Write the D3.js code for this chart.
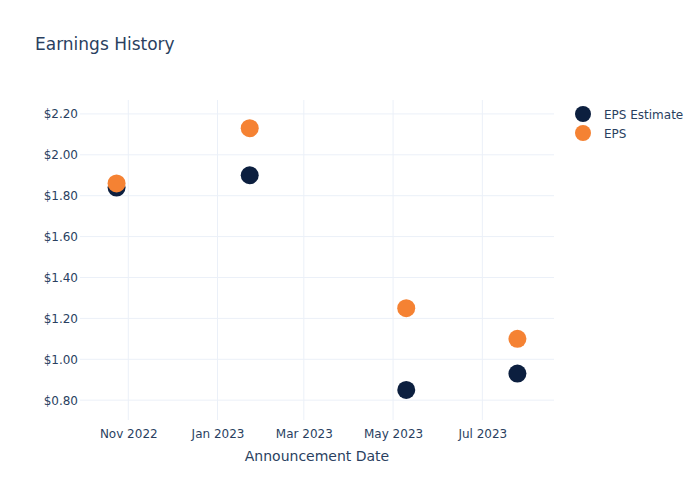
<!DOCTYPE html>
<html>
<head>
<meta charset="utf-8">
<script src="https://cdn.jsdelivr.net/npm/d3@7"></script>
<style>
  body { margin: 0; background: #fff; }
  svg text { font-family: "DejaVu Sans", Verdana, sans-serif; fill: #2a3f5f; }
</style>
</head>
<body>
<div id="chart"></div>
<script>
const dates = ["2022-10-24", "2023-01-23", "2023-05-10", "2023-07-25"];
const epsEstimate = [1.84, 1.90, 0.85, 0.93];
const eps = [1.86, 2.13, 1.25, 1.10];
const yTicks = [0.8, 1.0, 1.2, 1.4, 1.6, 1.8, 2.0, 2.2];
const xTicks = ["2022-11-01", "2023-01-01", "2023-03-01", "2023-05-01", "2023-07-01"];
const seriesNames = ["EPS Estimate", "EPS"];
const seriesColors = ["#0c1f3f", "#f58233"];

var width = 700, height = 500;
var margin = {top: 100, right: 146, bottom: 80, left: 80};
var parse = d3.utcParse("%Y-%m-%d");

var svg = d3.select("#chart").append("svg")
    .attr("width", width)
    .attr("height", height);

var x = d3.scaleUtc()
    .domain([parse("2022-09-29"), parse("2023-08-19")])
    .range([margin.left, width - margin.right]);

var y = d3.scaleLinear()
    .domain([0.703, 2.268])
    .range([height - margin.bottom, margin.top]);

// grid lines
svg.append("g").selectAll("line.h")
    .data(yTicks)
    .join("line")
    .attr("x1", margin.left).attr("x2", width - margin.right)
    .attr("y1", d => y(d)).attr("y2", d => y(d))
    .attr("stroke", "#ebf0f8").attr("stroke-width", 1);

svg.append("g").selectAll("line.v")
    .data(xTicks)
    .join("line")
    .attr("x1", d => x(parse(d))).attr("x2", d => x(parse(d)))
    .attr("y1", margin.top).attr("y2", height - margin.bottom)
    .attr("stroke", "#ebf0f8").attr("stroke-width", 1);

// axes
var yAxis = svg.append("g")
    .attr("transform", "translate(" + margin.left + ",0)")
    .call(d3.axisLeft(y).tickValues(yTicks).tickSize(0).tickPadding(2)
        .tickFormat(d => "$" + d3.format(".2f")(d)));
yAxis.select(".domain").remove();
yAxis.selectAll("text").attr("font-size", "12px").style("fill", "#2a3f5f");

var xAxis = svg.append("g")
    .attr("transform", "translate(0," + (height - margin.bottom) + ")")
    .call(d3.axisBottom(x).tickValues(xTicks.map(parse)).tickSize(0).tickPadding(9)
        .tickFormat(d3.utcFormat("%b %Y")));
xAxis.select(".domain").remove();
xAxis.selectAll("text").attr("font-size", "12px").style("fill", "#2a3f5f");

// axis title
svg.append("text")
    .attr("x", (margin.left + width - margin.right) / 2)
    .attr("y", 461)
    .attr("text-anchor", "middle")
    .attr("font-size", "14px")
    .text("Announcement Date");

// title
svg.append("text")
    .attr("x", 35)
    .attr("y", 50)
    .attr("font-size", "17px")
    .text("Earnings History");

// points
[epsEstimate, eps].forEach(function (values, i) {
    svg.append("g").selectAll("circle")
        .data(values)
        .join("circle")
        .attr("cx", (d, j) => x(parse(dates[j])))
        .attr("cy", d => y(d))
        .attr("r", 9)
        .attr("fill", seriesColors[i]);
});

// legend
var legend = svg.append("g").attr("transform", "translate(583,114)");
seriesNames.forEach(function (name, i) {
    legend.append("circle")
        .attr("cx", 0).attr("cy", i * 19)
        .attr("r", 8)
        .attr("fill", seriesColors[i]);
    legend.append("text")
        .attr("x", 21).attr("y", i * 19 + 4.5)
        .attr("font-size", "12px")
        .text(name);
});
</script>
</body>
</html>
